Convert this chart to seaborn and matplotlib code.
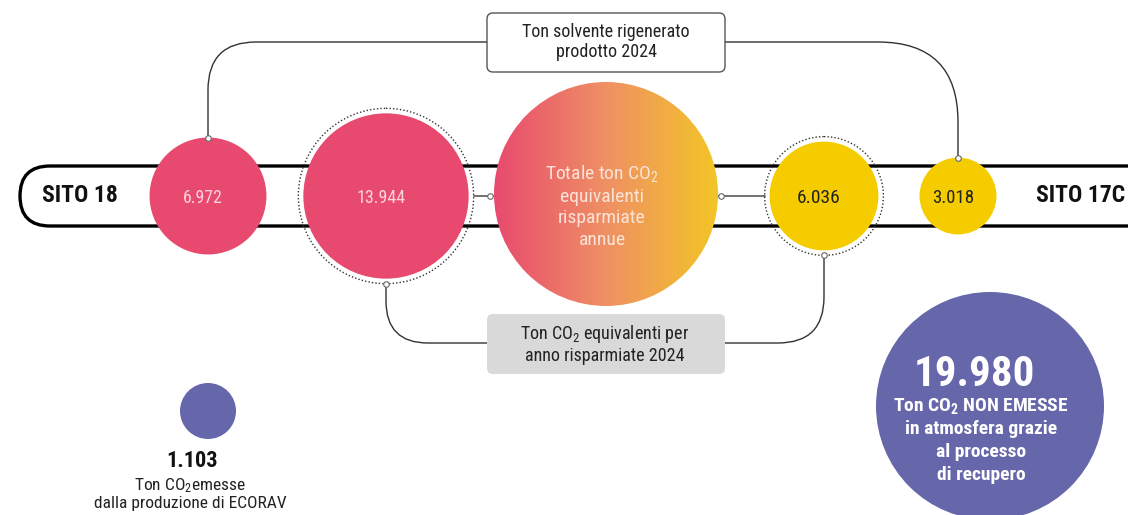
import matplotlib
matplotlib.use("Agg")
import matplotlib.pyplot as plt
from matplotlib import font_manager
from matplotlib.patches import Circle, FancyBboxPatch, PathPatch
from matplotlib.path import Path
from matplotlib.colors import LinearSegmentedColormap
import numpy as np
import seaborn as sns

# tonnes, 2024
sites = ["SITO 18", "SITO 17C"]
solvent_2024 = [6972, 3018]        # Ton solvente rigenerato
co2_saved_2024 = [13944, 6036]     # Ton CO2 equivalenti risparmiate
co2_not_emitted = 19980
co2_emitted = 1103

box_top_text = "Ton solvente rigenerato\nprodotto 2024"
box_bottom_text = "Ton CO$_2$ equivalenti per\nanno risparmiate 2024"
centre_text = "Totale ton CO$_2$\nequivalenti\nrisparmiate\nannue"
emitted_text = "Ton CO$_2$emesse\ndalla produzione di ECORAV"
not_emitted_lines = ["Ton CO$_2$ NON EMESSE", "in atmosfera grazie", "al processo", "di recupero"]

PINK = "#E84A6F"
YELLOW = "#F5CC00"
PURPLE = "#6667AB"
LINE = "#333333"


def fmt(v):
    return f"{v:,}".replace(",", ".")


def elbow(ax, pts, r, **kw):
    # polyline with rounded corners
    verts, codes = [pts[0]], [Path.MOVETO]
    for i in range(1, len(pts) - 1):
        p0, p1, p2 = (np.array(p, float) for p in pts[i - 1:i + 2])
        a = p1 + (p0 - p1) / np.linalg.norm(p0 - p1) * r
        b = p1 + (p2 - p1) / np.linalg.norm(p2 - p1) * r
        verts += [a, p1, b]
        codes += [Path.LINETO, Path.CURVE3, Path.CURVE3]
    verts.append(pts[-1])
    codes.append(Path.LINETO)
    ax.add_patch(PathPatch(Path(verts, codes), fill=False, **kw))


sns.set_theme(style="white")
avail = {f.name for f in font_manager.fontManager.ttflist}
fam = next((f for f in ["Roboto Condensed", "Liberation Sans Narrow", "Roboto"] if f in avail), "DejaVu Sans")
plt.rcParams["font.family"] = [fam, "DejaVu Sans"]
plt.rcParams["mathtext.fontset"] = "custom"
plt.rcParams["mathtext.rm"] = fam
plt.rcParams["mathtext.default"] = "regular"

fig = plt.figure(figsize=(11.28, 5.15), dpi=100)
ax = fig.add_axes([0, 0, 1, 1])

cy = 196
k = 0.7  # px radius per sqrt(ton)
x_sol = [208, 958]
x_co2 = [386, 824]
r_sol = [k * np.sqrt(v) for v in solvent_2024]
r_co2 = [k * np.sqrt(v) for v in co2_saved_2024]
gx, gy, gr = 606, 194, 112

# track
ax.add_patch(FancyBboxPatch((20, 166), 1200, 60, boxstyle="round,pad=0,rounding_size=30",
                            fc="white", ec="black", lw=2.4, zorder=1))

# connectors
elbow(ax, [(x_sol[0], cy - r_sol[0]), (x_sol[0], 42), (487, 42)], 48, ec=LINE, lw=1, zorder=2)
elbow(ax, [(725, 42), (x_sol[1], 42), (x_sol[1], cy - r_sol[1])], 80, ec=LINE, lw=1, zorder=2)
elbow(ax, [(x_co2[0], cy + r_co2[0] + 5), (x_co2[0], 343), (487, 343)], 42, ec=LINE, lw=1, zorder=2)
elbow(ax, [(725, 343), (x_co2[1], 343), (x_co2[1], cy + r_co2[1] + 5)], 46, ec=LINE, lw=1, zorder=2)
ax.plot([x_co2[0] + r_co2[0] + 5, gx - gr], [cy, cy], color="#666666", lw=1.3, zorder=2)
ax.plot([gx + gr, x_co2[1] - r_co2[1] - 5], [cy, cy], color="#666666", lw=1.3, zorder=2)

# boxes
ax.add_patch(FancyBboxPatch((487, 13), 238, 59, boxstyle="round,pad=0,rounding_size=6",
                            fc="white", ec="#555555", lw=1, zorder=3))
ax.add_patch(FancyBboxPatch((487, 314), 238, 60, boxstyle="round,pad=0,rounding_size=6",
                            fc="#D9D9D9", ec="none", zorder=3))
ax.text(606, 42, box_top_text, ha="center", va="center", fontsize=13, color="#222222",
        linespacing=1.15, zorder=4)
ax.text(605, 344, box_bottom_text, ha="center", va="center", fontsize=13, color="#222222",
        linespacing=1.15, zorder=4)

# site circles
for x, r, v, c, tc, fs in [(x_sol[0], r_sol[0], solvent_2024[0], PINK, "#FAD3DD", 12.8),
                           (x_co2[0], r_co2[0], co2_saved_2024[0], PINK, "#FAD3DD", 13),
                           (x_co2[1], r_co2[1], co2_saved_2024[1], YELLOW, "#222222", 14),
                           (x_sol[1], r_sol[1], solvent_2024[1], YELLOW, "#222222", 13.5)]:
    ax.add_patch(Circle((x, cy), r, fc=c, ec="none", zorder=5))
    ax.text(x - 5, cy + 2, fmt(v), ha="center", va="center", fontsize=fs, color=tc, zorder=6)
for x, r in zip(x_co2, r_co2):
    ax.add_patch(Circle((x, cy), r + 5, fill=False, ec=LINE, lw=1, ls=(0, (1, 1.5)), zorder=5))

# gradient circle
grad_cmap = LinearSegmentedColormap.from_list("pk_yl", [PINK, "#EF9064", "#F3C526"])
clip = Circle((gx, gy), gr, fc="none", ec="none", zorder=5)
ax.add_patch(clip)
im = ax.imshow(np.linspace(0, 1, 256)[None, :], cmap=grad_cmap, aspect="auto",
               extent=(gx - gr, gx + gr, gy + gr, gy - gr), zorder=5)
im.set_clip_path(clip)
ax.text(gx - 4, gy + 12, centre_text, ha="center", va="center", fontsize=14,
        color="#FCE3D8", linespacing=1.25, zorder=6)

# connection dots
sns.scatterplot(x=[x_sol[0], x_sol[1], x_co2[0], x_co2[1], gx - gr - 4, gx + gr + 3],
                y=[cy - r_sol[0], cy - r_sol[1], cy + r_co2[0] + 5, cy + r_co2[1] + 5, cy, cy],
                s=16, color="white", edgecolor="#666666", linewidth=0.8, zorder=7, ax=ax)

# site labels
ax.text(80, cy, sites[0], ha="center", va="center", fontsize=17, fontweight="bold", color="#111111", zorder=6)
ax.text(1081, cy, sites[1], ha="center", va="center", fontsize=17, fontweight="bold", color="#111111", zorder=6)

# emitted
ax.add_patch(Circle((208, 411), 28, fc=PURPLE, ec="none", zorder=5))
ax.text(192, 461, fmt(co2_emitted), ha="center", va="center", fontsize=16, fontweight="bold", color="#111111")
ax.text(190, 494, emitted_text, ha="center", va="center", fontsize=12.5, color="#222222", linespacing=1.1)

# not emitted
ax.add_patch(Circle((990, 406), 114, fc=PURPLE, ec="none", zorder=5))
ax.text(974, 374, fmt(co2_not_emitted), ha="center", va="center", fontsize=31, fontweight="bold",
        color="white", zorder=6)
for i, line in enumerate(not_emitted_lines):
    ax.text(981, 406 + 23 * i, line, ha="center", va="center", fontsize=14, fontweight="bold",
            color="white", zorder=6)

ax.set_xlim(0, 1128)
ax.set_ylim(515, 0)
ax.axis("off")
fig.savefig("out.png", dpi=100)
